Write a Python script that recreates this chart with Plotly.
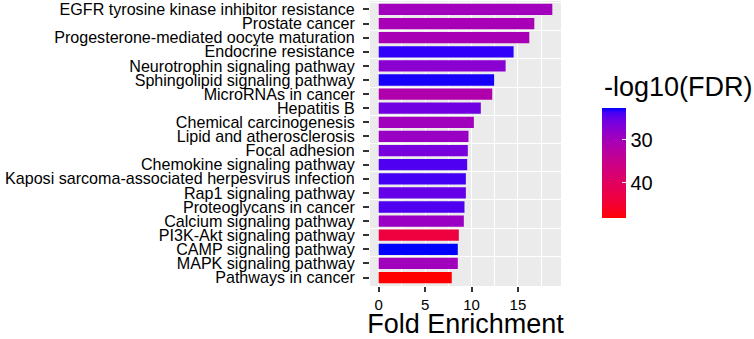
import plotly.graph_objects as go

terms = [
    "EGFR tyrosine kinase inhibitor resistance",
    "Prostate cancer",
    "Progesterone-mediated oocyte maturation",
    "Endocrine resistance",
    "Neurotrophin signaling pathway",
    "Sphingolipid signaling pathway",
    "MicroRNAs in cancer",
    "Hepatitis B",
    "Chemical carcinogenesis",
    "Lipid and atherosclerosis",
    "Focal adhesion",
    "Chemokine signaling pathway",
    "Kaposi sarcoma-associated herpesvirus infection",
    "Rap1 signaling pathway",
    "Proteoglycans in cancer",
    "Calcium signaling pathway",
    "PI3K-Akt signaling pathway",
    "CAMP signaling pathway",
    "MAPK signaling pathway",
    "Pathways in cancer",
]
fold_enrichment = [18.70, 16.76, 16.22, 14.53, 13.67, 12.44, 12.23, 11.00, 10.25, 9.67,
                   9.60, 9.53, 9.39, 9.39, 9.24, 9.17, 8.63, 8.52, 8.52, 7.87]
neg_log10_fdr = [29.7, 30.5, 30.5, 23.3, 27.4, 22.9, 31.5, 25.6, 29.7, 28.8,
                 26.1, 24.0, 23.6, 25.0, 24.0, 28.8, 43.5, 22.56, 29.7, 48.1]
x_ticks = [0, 5, 10, 15]
cbar_ticks = [30, 40]

FONT = "Liberation Sans, Arial, Helvetica, sans-serif"

W, H = 754, 339
ML, MR, MT, MB = 370, 193, 1, 53
PW, PH = W - ML - MR, H - MT - MB


# ---- ggplot-like Lab interpolation between blue (low) and red (high) ----
def _lin(c):
    c = c / 255.0
    return c / 12.92 if c <= 0.04045 else ((c + 0.055) / 1.055) ** 2.4


def _delin(c):
    c = max(0.0, min(1.0, c))
    v = 12.92 * c if c <= 0.0031308 else 1.055 * c ** (1 / 2.4) - 0.055
    return int(round(v * 255))


WP = (0.95047, 1.0, 1.08883)


def rgb2lab(rgb):
    r, g, b = (_lin(v) for v in rgb)
    X = 0.4124 * r + 0.3576 * g + 0.1805 * b
    Y = 0.2126 * r + 0.7152 * g + 0.0722 * b
    Z = 0.0193 * r + 0.1192 * g + 0.9505 * b

    def f(t):
        return t ** (1 / 3) if t > 0.008856 else 7.787 * t + 16 / 116

    fx, fy, fz = f(X / WP[0]), f(Y / WP[1]), f(Z / WP[2])
    return (116 * fy - 16, 500 * (fx - fy), 200 * (fy - fz))


def lab2rgb(lab):
    L, a, b = lab
    fy = (L + 16) / 116
    fx = fy + a / 500
    fz = fy - b / 200

    def finv(t):
        return t ** 3 if t ** 3 > 0.008856 else (t - 16 / 116) / 7.787

    X, Y, Z = finv(fx) * WP[0], finv(fy) * WP[1], finv(fz) * WP[2]
    r = 3.2406 * X - 1.5372 * Y - 0.4986 * Z
    g = -0.9689 * X + 1.8758 * Y + 0.0415 * Z
    bb = 0.0557 * X - 0.2040 * Y + 1.0570 * Z
    return "rgb(%d,%d,%d)" % (_delin(r), _delin(g), _delin(bb))


low_lab = rgb2lab((0, 0, 255))
high_lab = rgb2lab((255, 0, 0))
N = 24
# colour values are negated so the bar shows low (blue) at top, high (red) at bottom
colorscale = []
for i in range(N + 1):
    p = i / N
    t = 1 - p
    lab = tuple(low_lab[k] + (high_lab[k] - low_lab[k]) * t for k in range(3))
    colorscale.append([p, lab2rgb(lab)])

fig = go.Figure()

# invisible helper trace carrying boundary gridlines (row separators)
fig.add_trace(go.Scatter(
    x=fold_enrichment, y=terms, yaxis="y2", mode="markers",
    marker=dict(size=1, opacity=0), hoverinfo="skip", showlegend=False,
))

fig.add_trace(go.Bar(
    x=fold_enrichment,
    y=terms,
    orientation="h",
    width=0.8,
    marker=dict(
        color=[-v for v in neg_log10_fdr],
        colorscale=colorscale,
        line=dict(width=0),
        colorbar=dict(
            tickvals=[-v for v in cbar_ticks],
            ticktext=[str(v) for v in cbar_ticks],
            tickprefix=" ",
            ticks="inside", ticklen=4, tickcolor="white", tickwidth=1,
            tickfont=dict(family=FONT, size=20, color="black"),
            thickness=24, thicknessmode="pixels",
            len=110, lenmode="pixels",
            xref="container", x=602 / W, xanchor="left",
            yref="container", y=(H - 128) / H, yanchor="top",
            xpad=0, ypad=0,
            outlinewidth=0,
        ),
    ),
    hovertemplate="%{y}<br>Fold Enrichment: %{x}<extra></extra>",
    showlegend=False,
))

# colour legend title
fig.add_annotation(
    text="-log10(FDR)", xref="paper", yref="paper",
    x=(602 - ML) / PW, y=(H - MB - 87) / PH, xanchor="left", yanchor="middle",
    showarrow=False, font=dict(family=FONT, size=27, color="black"),
)

xmax = max(fold_enrichment)
fig.update_layout(
    width=W, height=H,
    margin=dict(l=ML, r=MR, t=MT, b=MB, autoexpand=False),
    paper_bgcolor="white",
    plot_bgcolor="#EBEBEB",
    font=dict(family=FONT, color="black"),
    bargap=0.2,
    xaxis=dict(
        range=[-0.05 * xmax, 1.05 * xmax],
        tickvals=x_ticks,
        ticks="outside", ticklen=5, tickwidth=1.8, tickcolor="#333333",
        ticklabelstandoff=0,
        tickfont=dict(family=FONT, size=15, color="black"),
        showgrid=True, gridcolor="white", gridwidth=1.2,
        minor=dict(dtick=2.5, tick0=0, showgrid=True, gridcolor="white", gridwidth=1.2, ticks=""),
        zeroline=False, showline=False, automargin=False,
        title=dict(text="Fold Enrichment", font=dict(family=FONT, size=27, color="black"), standoff=12),
    ),
    yaxis=dict(
        type="category",
        categoryorder="array", categoryarray=terms,
        tickmode="array", tickvals=terms, ticktext=terms,
        range=[len(terms) - 0.4, -0.6],
        ticks="outside", ticklen=6, tickwidth=1.8, tickcolor="#333333",
        ticklabelstandoff=5,
        tickfont=dict(family=FONT, size=16.1, color="black"),
        showgrid=False, zeroline=False, showline=False, automargin=False,
    ),
    yaxis2=dict(
        type="category", overlaying="y", side="left",
        categoryorder="array", categoryarray=terms,
        range=[len(terms) - 0.4, -0.6],
        tickson="boundaries", ticks="", showticklabels=False,
        showgrid=True, gridcolor="white", gridwidth=1.2,
        zeroline=False, showline=False, automargin=False,
    ),
)

fig.write_html("out.html", config={"displayModeBar": False},
               post_script="document.body.style.margin='0';")
